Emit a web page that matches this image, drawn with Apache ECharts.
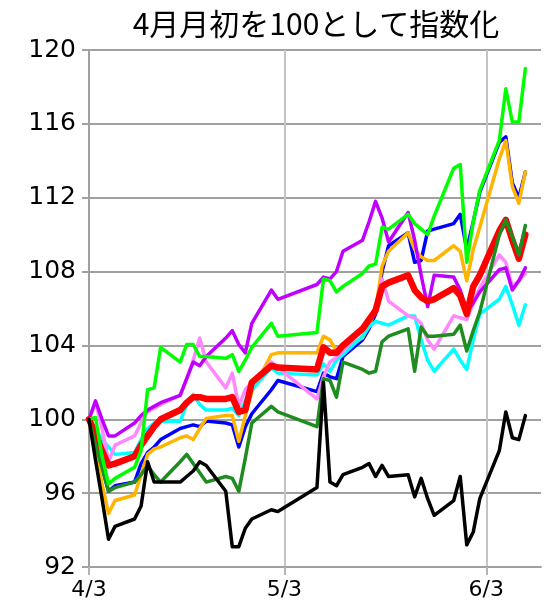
<!DOCTYPE html>
<html>
<head>
<meta charset="utf-8">
<script src="https://cdn.jsdelivr.net/npm/echarts@6/dist/echarts.min.js"></script>
<style>html,body{margin:0;padding:0;background:#fff}#c{width:544px;height:607px}</style>
</head>
<body>
<div id="c"></div>
<script>
const titleText = '4月月初を100として指数化';
const dates = ['2023-04-03','2023-04-04','2023-04-05','2023-04-06','2023-04-07','2023-04-10','2023-04-11','2023-04-12','2023-04-13','2023-04-14','2023-04-17','2023-04-18','2023-04-19','2023-04-20','2023-04-21','2023-04-24','2023-04-25','2023-04-26','2023-04-27','2023-04-28','2023-05-01','2023-05-02','2023-05-08','2023-05-09','2023-05-10','2023-05-11','2023-05-12','2023-05-15','2023-05-16','2023-05-17','2023-05-18','2023-05-19','2023-05-22','2023-05-23','2023-05-24','2023-05-25','2023-05-26','2023-05-29','2023-05-30','2023-05-31','2023-06-01','2023-06-02','2023-06-05','2023-06-06','2023-06-07','2023-06-08','2023-06-09'];
const xTickDates = ['2023-04-03','2023-05-03','2023-06-03'];
const yTicks = [92, 96, 100, 104, 108, 112, 116, 120];

const blueVals = [100,98.6,97.4,96.1,96.4,96.6,97.6,98.2,98.5,98.9,99.5,99.6,99.7,99.6,99.9,99.8,99.7,98.5,99.6,100.3,101.6,102.1,101.5,102.5,102.3,102.2,103.4,104.3,104.9,105.7,108.0,109.4,110.1,108.5,108.6,110.2,110.3,110.6,111.1,109.2,110.7,112.3,115.0,115.3,112.8,112.0,113.4];
const orangeVals = [100,98.3,96.5,94.9,95.6,95.9,97.0,98.1,98.4,98.5,99.0,99.1,98.9,99.5,100.05,100.2,100.2,98.8,100.2,101.5,103.5,103.6,103.6,104.5,104.3,103.7,103.8,104.4,105.1,105.9,108.3,109.1,110.1,109.2,108.8,108.6,108.6,109.4,109.1,107.5,109.2,110.4,114.1,115.1,112.6,111.7,113.4];
const cyanVals = [100,99.5,98.9,98.5,98.1,98.2,98.9,99.5,99.8,99.9,99.9,100.8,101.35,100.8,100.5,100.5,100.6,100.2,101.0,101.6,102.8,102.5,102.4,103.0,102.6,103.2,103.5,104.5,105.0,105.3,105.2,105.1,105.6,105.6,104.3,103.2,102.6,103.8,103.2,102.7,104.3,105.7,106.5,107.2,106.2,105.1,106.2];
const pinkVals = [100,100.9,99.5,97.7,98.6,99.1,99.8,100.4,100.6,100.8,101.3,102.2,103.2,104.4,103.1,101.7,102.5,100.7,101.6,102.0,103.1,102.8,101.1,102.3,103.1,103.35,103.7,104.9,105.3,105.8,107.6,106.4,105.6,105.5,105.2,104.3,103.8,105.6,105.5,105.4,106.3,107.1,108.9,108.5,107.2,107.5,107.9];
const purpleVals = [100,101.0,100.0,99.1,99.1,99.8,100.2,100.5,100.7,100.9,101.3,102.2,103.1,102.9,103.4,104.4,104.8,104.05,103.6,105.2,107.0,106.5,107.3,107.7,107.6,108.0,109.1,109.7,110.7,111.8,110.9,109.6,111.2,109.7,107.8,106.1,107.8,107.7,107.0,105.8,106.3,106.9,108.1,108.2,107.0,107.5,108.2];
const redVals = [100,99.2,98.3,97.5,97.6,98.0,98.6,99.1,99.6,100.0,100.5,100.9,101.2,101.2,101.1,101.1,101.2,100.4,100.5,102.0,102.9,102.8,102.7,103.9,103.6,103.6,104.0,104.9,105.4,105.9,107.2,107.4,107.8,107.0,106.6,106.4,106.5,107.1,106.7,105.7,107.2,107.8,110.2,110.8,109.7,108.7,110.0];
const darkGreenVals = [100,98.6,97.4,96.1,96.3,96.6,97.0,97.5,97.0,96.6,97.7,98.1,97.6,97.1,96.6,96.9,96.8,96.1,97.9,99.8,100.7,100.4,99.6,102.2,102.1,101.2,103.1,102.7,102.5,102.6,104.2,104.5,104.9,102.6,105.0,104.5,104.5,104.6,105.1,103.7,104.8,105.8,110.0,110.8,109.9,108.9,110.5];
const greenVals = [100,100.1,98.0,96.5,96.8,97.4,98.3,101.6,101.7,103.9,103.1,104.05,104.05,103.4,103.4,103.3,103.5,102.6,103.2,103.9,105.2,104.5,104.7,107.6,107.5,106.9,107.2,107.9,108.3,108.4,110.4,110.3,111.1,110.6,110.3,110.0,111.0,113.6,113.8,108.5,110.7,112.4,115.1,117.9,116.1,116.1,119.0];
const blackVals = [100,97.8,95.7,93.5,94.2,94.6,95.3,97.7,96.6,96.6,96.6,96.9,97.2,97.7,97.5,96.1,93.1,93.1,94.1,94.6,95.1,95.0,96.3,102.0,96.6,96.4,97.0,97.4,97.6,96.9,97.5,96.9,97.0,95.8,96.8,95.7,94.8,95.6,96.9,93.2,93.9,95.7,98.3,100.4,99.0,98.9,100.2];

const DAY = 86400000;
function toTs(s){ const p = s.split('-').map(Number); return Date.UTC(p[0], p[1]-1, p[2]); }
const t0 = toTs(dates[0]);
function dayOf(s){ return Math.round((toTs(s) - t0) / DAY); }
const xTickDays = xTickDates.map(dayOf);

function mk(name, vals, color, width){
  return {
    name: name, type: 'line', showSymbol: false, symbol: 'none', smooth: false,
    data: dates.map((d, i) => [dayOf(d), vals[i]]),
    lineStyle: { color: color, width: width, join: 'round', cap: 'round' },
    itemStyle: { color: color },
    silent: true, animation: false
  };
}

const chart = echarts.init(document.getElementById('c'), null, { renderer: 'canvas' });
chart.setOption({
  animation: false,
  backgroundColor: '#ffffff',
  title: {
    text: titleText, left: 311, top: 4, textAlign: 'center',
    textStyle: { fontFamily: 'Noto Sans CJK JP', fontSize: 30, fontWeight: 'normal', color: '#000' }
  },
  grid: { left: 89, right: 3, top: 50, bottom: 40, containLabel: false },
  xAxis: {
    type: 'value', min: 0, max: 69.4,
    axisLine: { show: true, onZero: false, lineStyle: { color: '#a0a0a0', width: 2 } },
    axisTick: { show: true, customValues: xTickDays, length: 8, inside: false, lineStyle: { color: '#b4b4b4', width: 2 } },
    axisLabel: {
      customValues: xTickDays, margin: 12, color: '#000', fontSize: 22, fontFamily: 'DejaVu Sans',
      formatter: function(v){ const d = new Date(t0 + v * DAY); return (d.getUTCMonth()+1) + '/' + d.getUTCDate(); }
    },
    splitLine: { show: true, lineStyle: { color: '#c4c4c4', width: 2 } }
  },
  yAxis: {
    type: 'value', min: yTicks[0], max: yTicks[yTicks.length-1], interval: 4,
    axisLine: { show: true, lineStyle: { color: '#a0a0a0', width: 2 } },
    axisTick: { show: true, length: 7, lineStyle: { color: '#a0a0a0', width: 2 } },
    axisLabel: { margin: 13, color: '#000', fontSize: 25, fontFamily: 'DejaVu Sans' },
    splitLine: { show: true, lineStyle: { color: '#a0a0a0', width: 2 } }
  },
  series: [
    mk('blue', blueVals, '#0000ff', 3.5),
    mk('orange', orangeVals, '#ffb400', 3.5),
    mk('cyan', cyanVals, '#00ffff', 3.5),
    mk('pink', pinkVals, '#ff88ff', 3.5),
    mk('purple', purpleVals, '#c000ff', 3.5),
    mk('red', redVals, '#ff0000', 6.5),
    mk('darkgreen', darkGreenVals, '#1e8c1e', 3.5),
    mk('green', greenVals, '#00ff00', 3.5),
    mk('black', blackVals, '#000000', 3.5)
  ]
});
</script>
</body>
</html>
